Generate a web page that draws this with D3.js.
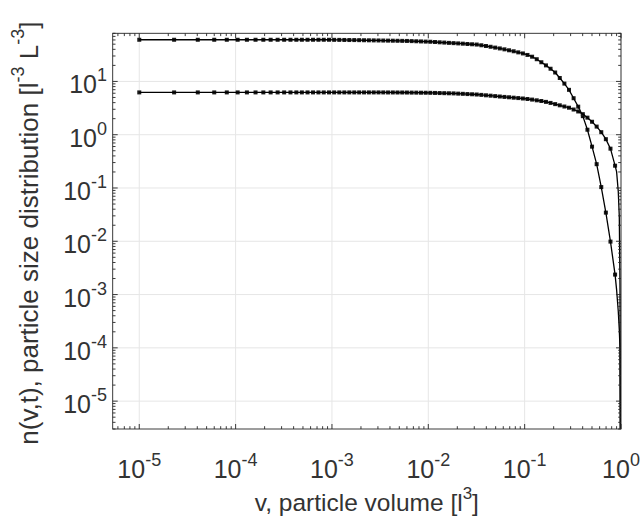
<!DOCTYPE html>
<html>
<head>
<meta charset="utf-8">
<script src="https://cdn.jsdelivr.net/npm/d3@7/dist/d3.min.js"></script>
<style>
  body { margin: 0; background: #fff; }
  svg { display: block; }
  text { font-family: "Liberation Sans", Arial, Helvetica, sans-serif; fill: #333; }
</style>
</head>
<body>
<div id="chart"></div>
<script>
// particle volume grid (markers)
const volume = [
  1.00e-5, 2.30e-5, 4.05e-5, 6.00e-5, 8.10e-5, 1.05e-4, 1.31e-4, 1.61e-4, 1.94e-4, 2.31e-4,
  2.73e-4, 3.19e-4, 3.71e-4, 4.27e-4, 4.87e-4, 5.58e-4, 6.36e-4, 7.24e-4, 8.22e-4, 9.32e-4,
  1.054e-3, 1.191e-3, 1.344e-3, 1.514e-3, 1.704e-3, 1.916e-3, 2.153e-3, 2.417e-3, 2.713e-3, 3.042e-3,
  3.410e-3, 3.821e-3, 4.280e-3, 4.792e-3, 5.363e-3, 6.001e-3, 6.714e-3, 7.509e-3, 8.397e-3, 9.388e-3,
  1.049e-2, 1.173e-2, 1.311e-2, 1.465e-2, 1.637e-2, 1.829e-2, 2.043e-2, 2.282e-2, 2.549e-2, 2.847e-2,
  3.180e-2, 3.552e-2, 3.967e-2, 4.430e-2, 4.947e-2, 5.524e-2, 6.168e-2, 6.888e-2, 7.691e-2, 8.587e-2,
  9.588e-2, 0.1070, 0.1195, 0.1335, 0.1490, 0.1664, 0.1857, 0.2074, 0.2315, 0.2585,
  0.2886, 0.3222, 0.3597, 0.4016, 0.4484, 0.5006, 0.5588, 0.6239, 0.6965, 0.7776,
  0.868
];

// upper distribution (starts near 60)
const nUpper = [
  60.5, 60.5, 60.5, 60.5, 60.5, 60.5, 60.5, 60.5, 60.5, 60.5,
  60.5, 60.5, 60.5, 60.5, 60.5, 60.5, 60.5, 60.5, 60.5, 60.5,
  60.3, 60.2, 60.0, 59.8, 59.7, 59.5, 59.3, 59.1, 58.9, 58.7,
  58.5, 58.3, 58.1, 57.9, 57.7, 57.5, 57.1, 56.7, 56.3, 55.9,
  55.5, 54.9, 54.2, 53.6, 52.9, 52.3, 51.7, 51.1, 50.4, 49.8,
  49.2, 47.7, 46.2, 44.7, 43.1, 41.6, 40.0, 38.4, 36.8, 35.1,
  33.5, 31.4, 29.1, 26.1, 22.9, 20.0, 17.3, 14.7, 11.6, 9.1,
  6.95, 4.84, 3.36, 2.23, 1.24, 0.597, 0.280, 0.104, 0.0345, 0.00986,
  0.00237
];

// lower distribution (starts near 6)
const nLower = [
  6.22, 6.22, 6.22, 6.22, 6.22, 6.22, 6.22, 6.22, 6.22, 6.22,
  6.22, 6.22, 6.22, 6.22, 6.22, 6.22, 6.22, 6.22, 6.22, 6.22,
  6.22, 6.22, 6.22, 6.22, 6.22, 6.22, 6.22, 6.22, 6.22, 6.22,
  6.22, 6.21, 6.21, 6.20, 6.20, 6.19, 6.17, 6.16, 6.14, 6.13,
  6.11, 6.08, 6.05, 6.02, 5.99, 5.96, 5.90, 5.85, 5.79, 5.74,
  5.68, 5.59, 5.49, 5.40, 5.30, 5.21, 5.12, 5.04, 4.95, 4.87,
  4.78, 4.68, 4.56, 4.42, 4.29, 4.13, 3.95, 3.75, 3.56, 3.38,
  3.21, 2.97, 2.73, 2.43, 2.09, 1.75, 1.42, 1.115, 0.824, 0.547,
  0.262
];

// solid curves continue past the last marker down to v = 1
const tailVolume = [0.90, 0.937, 0.96, 0.976, 0.99, 0.999];
const tailUpper  = [1.24e-3, 4.8e-4, 2.2e-4, 1.0e-4, 1e-7, 1e-9];
const tailLower  = [0.203, 0.0855, 0.029, 1.5e-3, 1e-7, 1e-9];

const xTickExps = [-5, -4, -3, -2, -1, 0];
const yTickExps = [-5, -4, -3, -2, -1, 0, 1];

const width = 644, height = 519;
const plot = { left: 112.7, right: 621, top: 33.3, bottom: 429 };

const svg = d3.select("#chart").append("svg")
  .attr("width", width)
  .attr("height", height);

const x = d3.scaleLog().domain([5.3e-6, 1]).range([plot.left, plot.right]);
const y = d3.scaleLog().domain([3e-6, 80]).range([plot.bottom, plot.top]);

// minor tick values: 2..9 in every decade inside the domain
function minorTicks(scale) {
  const [a, b] = scale.domain();
  const out = [];
  for (let e = Math.floor(Math.log10(a)); e <= Math.ceil(Math.log10(b)); e++) {
    for (let m = 2; m <= 9; m++) {
      const v = m * Math.pow(10, e);
      if (v >= a && v <= b) out.push(v);
    }
  }
  return out;
}

// grid
const grid = svg.append("g").attr("stroke", "#e6e6e6").attr("stroke-width", 1);
xTickExps.forEach(e => {
  const px = x(Math.pow(10, e));
  grid.append("line").attr("x1", px).attr("x2", px).attr("y1", plot.top).attr("y2", plot.bottom);
});
yTickExps.forEach(e => {
  const py = y(Math.pow(10, e));
  grid.append("line").attr("x1", plot.left).attr("x2", plot.right).attr("y1", py).attr("y2", py);
});

// clip for the curves
svg.append("clipPath").attr("id", "plot-clip")
  .append("rect")
  .attr("x", plot.left).attr("y", plot.top)
  .attr("width", plot.right - plot.left).attr("height", plot.bottom - plot.top);

const curves = svg.append("g").attr("clip-path", "url(#plot-clip)");

const line = d3.line()
  .x(d => x(d[0]))
  .y(d => y(d[1]));

[nUpper, nLower].forEach((series, i) => {
  const tail = i === 0 ? tailUpper : tailLower;
  const pts = volume.map((v, j) => [v, series[j]])
    .concat(tailVolume.map((v, j) => [v, tail[j]]));

  curves.selectAll(".m" + i)
    .data(volume.map((v, j) => [v, series[j]]))
    .enter()
    .append("rect")
    .attr("class", "m" + i)
    .attr("x", d => x(d[0]) - 2)
    .attr("y", d => y(d[1]) - 2)
    .attr("width", 4)
    .attr("height", 4)
    .attr("fill", "#1a1a1a");

  curves.append("path")
    .datum(pts)
    .attr("fill", "none")
    .attr("stroke", "#000")
    .attr("stroke-width", 1.3)
    .attr("d", line);
});

// axes box and ticks (inside, on all four sides)
const axes = svg.append("g").attr("stroke", "#262626").attr("stroke-width", 0.9);
axes.append("rect")
  .attr("x", plot.left).attr("y", plot.top)
  .attr("width", plot.right - plot.left).attr("height", plot.bottom - plot.top)
  .attr("fill", "none");

const majorLen = 5, minorLen = 2.8;
xTickExps.forEach(e => {
  const px = x(Math.pow(10, e));
  axes.append("line").attr("x1", px).attr("x2", px).attr("y1", plot.bottom).attr("y2", plot.bottom - majorLen);
  axes.append("line").attr("x1", px).attr("x2", px).attr("y1", plot.top).attr("y2", plot.top + majorLen);
});
minorTicks(x).forEach(v => {
  const px = x(v);
  axes.append("line").attr("x1", px).attr("x2", px).attr("y1", plot.bottom).attr("y2", plot.bottom - minorLen);
  axes.append("line").attr("x1", px).attr("x2", px).attr("y1", plot.top).attr("y2", plot.top + minorLen);
});
yTickExps.forEach(e => {
  const py = y(Math.pow(10, e));
  axes.append("line").attr("x1", plot.left).attr("x2", plot.left + majorLen).attr("y1", py).attr("y2", py);
  axes.append("line").attr("x1", plot.right).attr("x2", plot.right - majorLen).attr("y1", py).attr("y2", py);
});
minorTicks(y).forEach(v => {
  const py = y(v);
  axes.append("line").attr("x1", plot.left).attr("x2", plot.left + minorLen).attr("y1", py).attr("y2", py);
  axes.append("line").attr("x1", plot.right).attr("x2", plot.right - minorLen).attr("y1", py).attr("y2", py);
});

// tick labels
const tickSize = 25, tickSup = 18;
xTickExps.forEach(e => {
  const t = svg.append("text")
    .attr("x", x(Math.pow(10, e)))
    .attr("y", 478)
    .attr("text-anchor", "middle")
    .style("font-size", tickSize + "px");
  t.append("tspan").text("10");
  t.append("tspan").attr("dy", -12).style("font-size", tickSup + "px").text(String(e));
});
yTickExps.forEach(e => {
  const t = svg.append("text")
    .attr("x", 107)
    .attr("y", y(Math.pow(10, e)) + 12)
    .attr("text-anchor", "end")
    .style("font-size", tickSize + "px");
  t.append("tspan").text("10");
  t.append("tspan").attr("dy", -12).style("font-size", tickSup + "px").text(String(e));
});

// axis titles
const xTitle = svg.append("text")
  .attr("x", (plot.left + plot.right) / 2)
  .attr("y", 511)
  .attr("text-anchor", "middle")
  .style("font-size", "24.5px");
xTitle.append("tspan").text("v, particle volume [l");
xTitle.append("tspan").attr("dy", -12).style("font-size", "17px").text("3");
xTitle.append("tspan").attr("dy", 12).text("]");

const yTitle = svg.append("text")
  .attr("transform", `translate(38,${(plot.top + plot.bottom) / 2 + 2}) rotate(-90)`)
  .attr("text-anchor", "middle")
  .style("font-size", "26px");
yTitle.append("tspan").text("n(v,t), particle size distribution [l");
yTitle.append("tspan").attr("dy", -14).style("font-size", "18px").text("-3");
yTitle.append("tspan").attr("dy", 14).text(" L");
yTitle.append("tspan").attr("dy", -14).style("font-size", "18px").text("-3");
yTitle.append("tspan").attr("dy", 14).text("]");
</script>
</body>
</html>
